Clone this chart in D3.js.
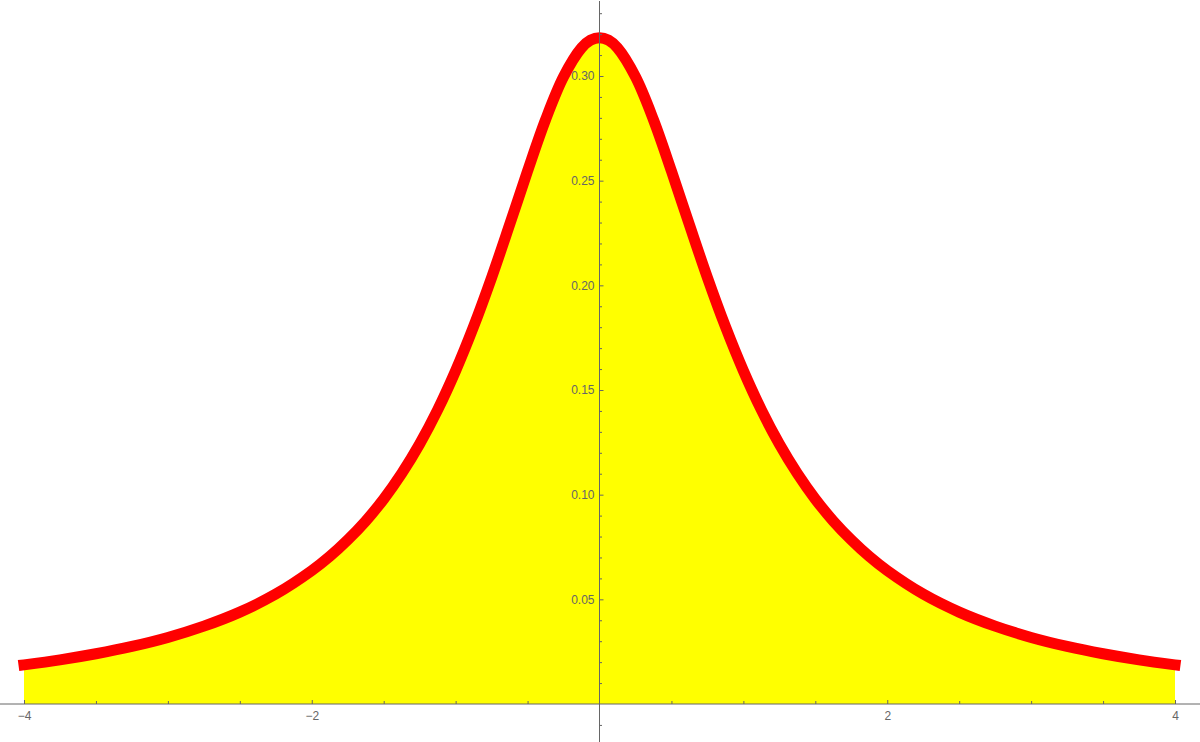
<!DOCTYPE html>
<html>
<head>
<meta charset="utf-8">
<script src="https://cdn.jsdelivr.net/npm/d3@7"></script>
<style>
   html, body { margin: 0; padding: 0; background: #fff; }
   #chart { width: 1200px; height: 742px; }
   .axis text { font-family: "Liberation Sans", Arial, sans-serif; font-size: 12px; fill: #666; }
   .axis line, .axis-line { stroke: #666; stroke-width: 1; }
</style>
</head>
<body>
<div id="chart"></div>
<script>
// Values
const xValues = [-4, -3.75, -3.5, -3.25, -3, -2.75, -2.5, -2.25, -2, -1.875, -1.75, -1.625, -1.5, -1.375, -1.25, -1.125,
   -1, -0.875, -0.75, -0.625, -0.5, -0.375, -0.25, -0.125, -0.0625,
   0, 0.0625, 0.125, 0.25, 0.375, 0.5, 0.625, 0.75, 0.875,
   1, 1.125, 1.25, 1.375, 1.5, 1.625, 1.75, 1.875, 2, 2.25, 2.5, 2.75, 3, 3.25, 3.5, 3.75, 4];
const yValues = [0.0187, 0.0211, 0.0240, 0.0275, 0.0318, 0.0372, 0.0439, 0.0525, 0.0637, 0.0705, 0.0784, 0.0874, 0.0979, 0.1101, 0.1242, 0.1405,
   0.1592, 0.1803, 0.2037, 0.2289, 0.2546, 0.2791, 0.2996, 0.3134, 0.3171,
   0.3183, 0.3171, 0.3134, 0.2996, 0.2791, 0.2546, 0.2289, 0.2037, 0.1803,
   0.1592, 0.1405, 0.1242, 0.1101, 0.0979, 0.0874, 0.0784, 0.0705, 0.0637, 0.0525, 0.0439, 0.0372, 0.0318, 0.0275, 0.0240, 0.0211, 0.0187];
const xMajorTicks = [-4, -2, 2, 4];
const xMinorTicks = [-3.5, -3, -2.5, -1.5, -1, -0.5, 0.5, 1, 1.5, 2.5, 3, 3.5];
const yMajorTicks = [0.05, 0.10, 0.15, 0.20, 0.25, 0.30];
const yMinorTicks = [-0.01, 0.01, 0.02, 0.03, 0.04, 0.06, 0.07, 0.08, 0.09, 0.11, 0.12, 0.13, 0.14,
   0.16, 0.17, 0.18, 0.19, 0.21, 0.22, 0.23, 0.24, 0.26, 0.27, 0.28, 0.29, 0.31, 0.32, 0.33];

const width = 1200;
const height = 742;

const data = xValues.map((x, i) => ({ x: x, y: yValues[i] }));

// Scales
const xScale = d3.scaleLinear().domain([-4, 4]).range([24, 1175]);
const yScale = d3.scaleLinear().domain([0, 0.30]).range([704, 76]);

const svg = d3.select("#chart").append("svg")
   .attr("width", width)
   .attr("height", height);

// Filled area under the curve
const area = d3.area()
   .x(d => xScale(d.x))
   .y0(yScale(0))
   .y1(d => yScale(d.y))
   .curve(d3.curveCatmullRom);

svg.append("path")
   .datum(data)
   .attr("fill", "#ffff00")
   .attr("d", area);

// Curve
const line = d3.line()
   .x(d => xScale(d.x))
   .y(d => yScale(d.y))
   .curve(d3.curveCatmullRom);

svg.append("path")
   .datum(data)
   .attr("fill", "none")
   .attr("stroke", "#ff0000")
   .attr("stroke-width", 11)
   .attr("stroke-linecap", "square")
   .attr("stroke-linejoin", "round")
   .attr("d", line);

// Axis lines
svg.append("line")
   .attr("class", "axis-line")
   .attr("x1", 0).attr("x2", width)
   .attr("y1", yScale(0)).attr("y2", yScale(0));

svg.append("line")
   .attr("class", "axis-line")
   .attr("x1", xScale(0)).attr("x2", xScale(0))
   .attr("y1", 1).attr("y2", height);

// x axis
const xAxisG = svg.append("g")
   .attr("class", "axis")
   .attr("transform", "translate(0," + yScale(0) + ")");

xAxisG.append("g")
   .call(d3.axisBottom(xScale).tickValues(xMajorTicks).tickSizeInner(-4).tickSizeOuter(0).tickPadding(7).tickFormat(d3.format("d")))
   .call(g => g.select(".domain").remove());

xAxisG.append("g")
   .call(d3.axisBottom(xScale).tickValues(xMinorTicks).tickSizeInner(-3).tickSizeOuter(0).tickFormat(""))
   .call(g => g.select(".domain").remove());

// y axis
const yAxisG = svg.append("g")
   .attr("class", "axis")
   .attr("transform", "translate(" + xScale(0) + ",0)");

yAxisG.append("g")
   .call(d3.axisLeft(yScale).tickValues(yMajorTicks).tickSizeInner(-4).tickSizeOuter(0).tickPadding(5).tickFormat(d3.format(".2f")))
   .call(g => g.select(".domain").remove());

yAxisG.append("g")
   .call(d3.axisLeft(yScale).tickValues(yMinorTicks).tickSizeInner(-2.5).tickSizeOuter(0).tickFormat(""))
   .call(g => g.select(".domain").remove());
</script>
</body>
</html>
